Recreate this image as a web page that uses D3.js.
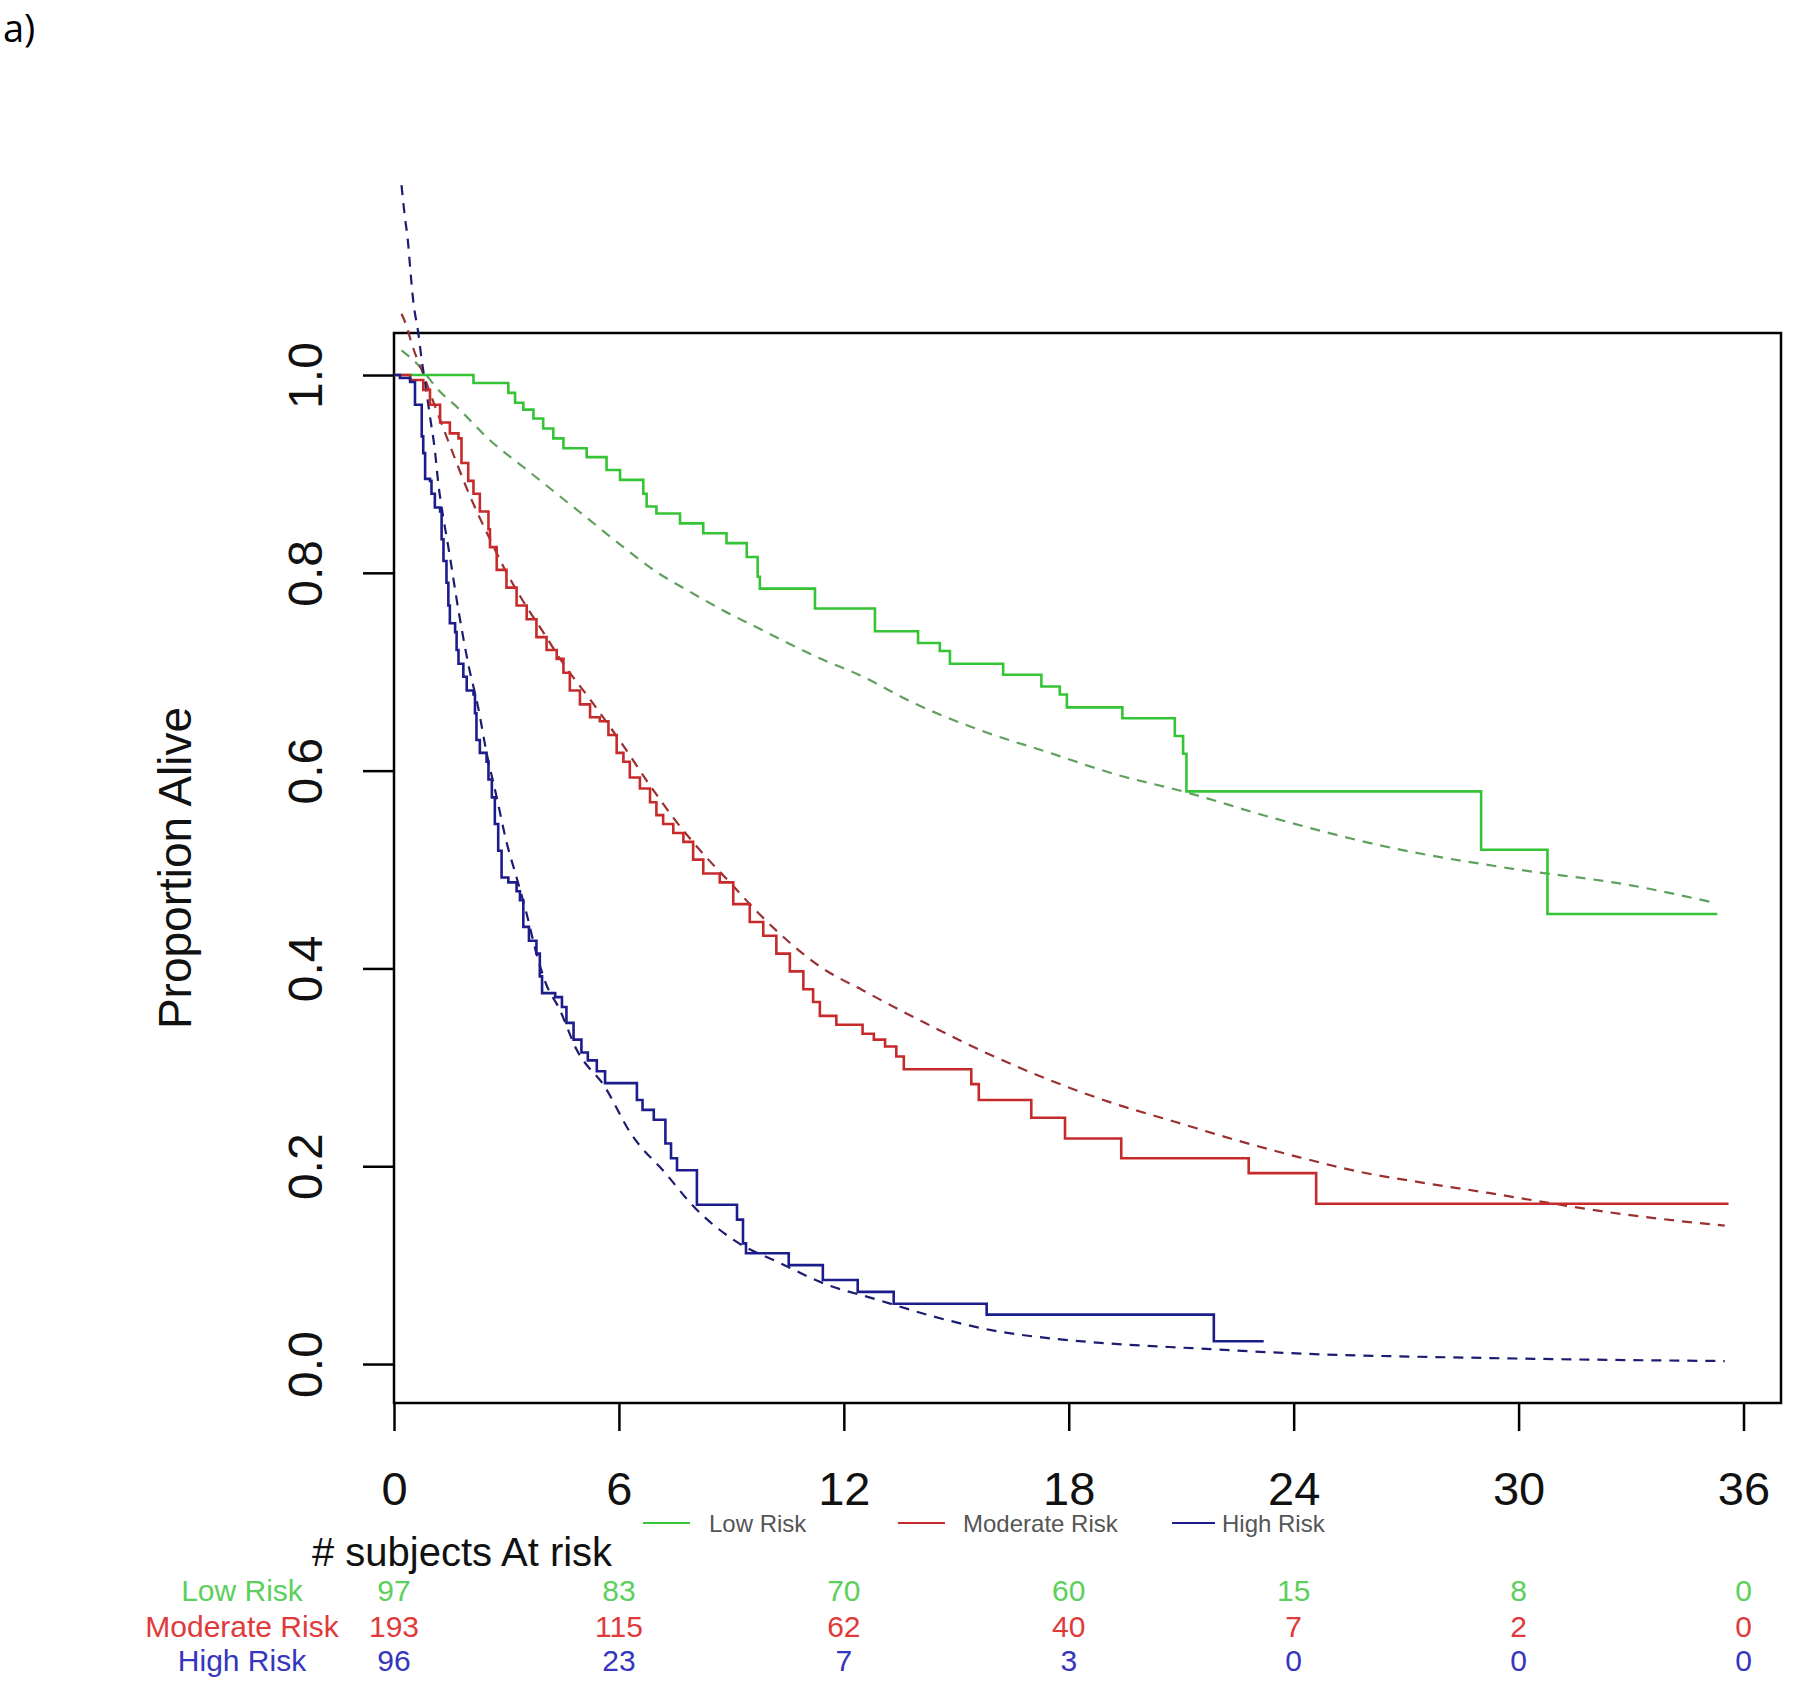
<!DOCTYPE html>
<html>
<head>
<meta charset="utf-8">
<script src="https://cdn.jsdelivr.net/npm/d3@7"></script>
<style>
  html, body { margin: 0; padding: 0; background: #fff; }
  svg { display: block; }
  text { font-family: "Liberation Sans", Arial, sans-serif; }
</style>
</head>
<body>
<svg id="chart" width="1800" height="1683"></svg>
<script>
// ---------------- DATA ----------------
const xTicks = [0, 6, 12, 18, 24, 30, 36];
const yTicks = [0, 0.2, 0.4, 0.6, 0.8, 1.0];
const groups = ["Low Risk", "Moderate Risk", "High Risk"];

// Kaplan-Meier steps: [time of drop (months), survival after drop]
const kmLow = [[2.12,0.992],[3.05,0.982],[3.23,0.972],[3.45,0.965],[3.72,0.956],[3.98,0.946],[4.25,0.936],[4.52,0.926],[5.14,0.917],[5.67,0.904],[6.03,0.894],[6.65,0.880],[6.74,0.867],[7.0,0.860],[7.63,0.850],[8.25,0.840],[8.87,0.830],[9.41,0.816],[9.7,0.796],[9.76,0.784],[11.23,0.764],[12.83,0.741],[13.98,0.729],[14.56,0.721],[14.83,0.708],[16.25,0.697],[17.27,0.685],[17.76,0.677],[17.95,0.664],[19.43,0.653],[20.83,0.635],[21.05,0.617],[21.14,0.579],[29.0,0.520],[30.77,0.455]];
const kmLowEnd = 35.3;
const kmMod = [[0.43,0.995],[0.78,0.985],[0.96,0.970],[1.23,0.952],[1.49,0.941],[1.72,0.936],[1.80,0.911],[1.98,0.893],[2.12,0.880],[2.29,0.862],[2.52,0.844],[2.56,0.826],[2.74,0.803],[3.0,0.785],[3.27,0.767],[3.54,0.753],[3.8,0.735],[4.07,0.722],[4.34,0.713],[4.52,0.699],[4.69,0.681],[4.96,0.667],[5.23,0.654],[5.49,0.650],[5.72,0.636],[5.94,0.618],[6.12,0.609],[6.29,0.593],[6.56,0.582],[6.83,0.568],[7.0,0.555],[7.18,0.546],[7.45,0.537],[7.72,0.528],[7.98,0.510],[8.25,0.496],[8.69,0.487],[9.05,0.465],[9.49,0.447],[9.85,0.433],[10.2,0.415],[10.56,0.397],[10.92,0.379],[11.18,0.366],[11.36,0.352],[11.8,0.343],[12.5,0.334],[12.8,0.328],[13.1,0.321],[13.4,0.311],[13.6,0.298],[15.4,0.283],[15.6,0.267],[17.0,0.249],[17.9,0.228],[19.4,0.208],[22.8,0.193],[24.6,0.162]];
const kmModEnd = 35.6;
const kmHigh = [[0.16,0.997],[0.43,0.993],[0.56,0.970],[0.74,0.938],[0.78,0.921],[0.83,0.895],[0.96,0.893],[1.0,0.880],[1.09,0.866],[1.23,0.862],[1.27,0.834],[1.32,0.812],[1.40,0.790],[1.45,0.767],[1.49,0.749],[1.63,0.740],[1.67,0.722],[1.72,0.708],[1.85,0.695],[1.94,0.681],[2.12,0.677],[2.16,0.658],[2.20,0.631],[2.29,0.618],[2.47,0.609],[2.52,0.591],[2.61,0.573],[2.69,0.546],[2.78,0.519],[2.87,0.492],[3.05,0.487],[3.27,0.478],[3.36,0.469],[3.45,0.442],[3.6,0.428],[3.8,0.415],[3.89,0.392],[3.95,0.375],[4.3,0.371],[4.48,0.361],[4.6,0.345],[4.79,0.328],[5.0,0.315],[5.17,0.307],[5.41,0.296],[5.63,0.284],[6.48,0.267],[6.63,0.257],[6.93,0.247],[7.24,0.223],[7.39,0.208],[7.55,0.196],[8.08,0.161],[9.15,0.146],[9.31,0.122],[9.39,0.112],[10.53,0.100],[11.44,0.085],[12.37,0.073],[13.33,0.061],[15.81,0.050],[21.87,0.023]];
const kmHighEnd = 23.2;

// Fitted (parametric) curves: [time, survival]
const fitLow = [[0.2,1.025],[0.6,1.012],[1.23,0.983],[1.67,0.968],[2.56,0.934],[3.45,0.907],[4.34,0.880],[5.23,0.853],[6.12,0.826],[7.0,0.801],[7.89,0.781],[8.78,0.762],[9.67,0.745],[10.56,0.728],[11.45,0.712],[12.34,0.698],[13.94,0.667],[15.7,0.640],[17.49,0.618],[19.27,0.596],[21.05,0.579],[23.37,0.553],[26.6,0.522],[29.8,0.501],[33.0,0.484],[35.27,0.466]];
const fitMod = [[0.2,1.062],[0.34,1.049],[0.47,1.032],[0.6,1.018],[0.74,1.005],[1.0,0.978],[1.5,0.928],[2.0,0.88],[2.56,0.834],[2.91,0.807],[3.45,0.771],[3.98,0.740],[4.52,0.708],[5.23,0.672],[6.12,0.625],[6.83,0.585],[7.54,0.548],[8.34,0.512],[8.96,0.487],[9.67,0.458],[10.56,0.426],[11.36,0.402],[12.5,0.378],[14.16,0.345],[15.83,0.314],[17.5,0.287],[19.16,0.264],[20.83,0.245],[22.5,0.226],[24.16,0.209],[25.8,0.194],[27.5,0.183],[29.2,0.173],[30.8,0.163],[32.5,0.153],[34.2,0.145],[35.5,0.140]];
const fitHigh = [[0.2,1.192],[0.29,1.160],[0.37,1.136],[0.43,1.109],[0.51,1.076],[0.65,1.042],[0.74,1.015],[0.83,0.992],[0.96,0.958],[1.09,0.924],[1.18,0.891],[1.31,0.857],[1.45,0.826],[1.72,0.762],[1.98,0.708],[2.25,0.663],[2.47,0.618],[2.74,0.573],[3.0,0.528],[3.27,0.492],[3.54,0.455],[3.8,0.415],[4.07,0.383],[4.4,0.360],[4.87,0.318],[5.63,0.280],[6.32,0.233],[7.24,0.193],[8.0,0.159],[9.08,0.125],[10.3,0.102],[11.5,0.081],[12.9,0.065],[14.4,0.048],[15.97,0.034],[17.5,0.026],[19.0,0.021],[21.3,0.016],[23.9,0.011],[29.3,0.006],[35.5,0.003]];

// Numbers at risk
const riskLow  = [97, 83, 70, 60, 15, 8, 0];
const riskMod  = [193, 115, 62, 40, 7, 2, 0];
const riskHigh = [96, 23, 7, 3, 0, 0, 0];

// ---------------- DRAW ----------------
const svg = d3.select("#chart");
const x = d3.scaleLinear().domain([0, 37]).range([394, 1781]);
const y = d3.scaleLinear().domain([-0.0394, 1.0425]).range([1403, 333]);

const colSolid = ["#35c435", "#c62a2a", "#1c1c8c"];
const colDash  = ["#5fa05f", "#9a3030", "#1c1c70"];
const colText  = ["#5ccf5c", "#e03a3a", "#3535c0"];

// panel label
svg.append("text").attr("x", 3).attr("y", 42)
  .style("font-family", "'Open Sans', 'Noto Sans', sans-serif")
  .style("font-size", "38px").attr("fill", "#000").text("a)");

// box
svg.append("rect").attr("x", x(0)).attr("y", y(1.0425))
  .attr("width", x(37) - x(0)).attr("height", y(-0.0394) - y(1.0425))
  .attr("fill", "none").attr("stroke", "#000").attr("stroke-width", 2.5);

// y axis
const yAxis = svg.append("g").attr("transform", `translate(${x(0)},0)`)
  .call(d3.axisLeft(y).tickValues(yTicks).tickSize(31).tickSizeOuter(0).tickFormat(d3.format(".1f")));
yAxis.select(".domain").remove();
yAxis.selectAll(".tick line").attr("stroke", "#000").attr("stroke-width", 2.5);
yAxis.selectAll(".tick text")
  .attr("x", null).attr("dy", null)
  .attr("transform", "translate(-72,0) rotate(-90)")
  .attr("text-anchor", "middle")
  .style("font-size", "48px").style("font-family", "'Liberation Sans', Arial, sans-serif").attr("fill", "#111");

// x axis
const xAxis = svg.append("g").attr("transform", `translate(0,${y(-0.0394)})`)
  .call(d3.axisBottom(x).tickValues(xTicks).tickSize(28).tickSizeOuter(0));
xAxis.select(".domain").remove();
xAxis.selectAll(".tick line").attr("stroke", "#000").attr("stroke-width", 2.5);
xAxis.selectAll(".tick text")
  .attr("y", 102).attr("dy", null)
  .style("font-size", "47px").style("font-family", "'Liberation Sans', Arial, sans-serif").attr("fill", "#111");

// y title
svg.append("text")
  .attr("transform", `translate(191,868) rotate(-90)`)
  .attr("text-anchor", "middle").style("font-size", "46px").attr("fill", "#111")
  .text("Proportion Alive");

// fitted dashed curves
const fitLine = d3.line().x(d => x(d[0])).y(d => y(d[1])).curve(d3.curveMonotoneX);
[fitLow, fitMod, fitHigh].forEach((f, i) => {
  svg.append("path").attr("d", fitLine(f)).attr("fill", "none")
    .attr("stroke", colDash[i]).attr("stroke-width", 2.2).attr("stroke-dasharray", "10,8");
});

// KM step curves
const stepLine = d3.line().x(d => x(d[0])).y(d => y(d[1])).curve(d3.curveStepAfter);
[[kmLow, kmLowEnd], [kmMod, kmModEnd], [kmHigh, kmHighEnd]].forEach(([km, end], i) => {
  const pts = [[0, 1]].concat(km).concat([[end, km[km.length - 1][1]]]);
  svg.append("path").attr("d", stepLine(pts)).attr("fill", "none")
    .attr("stroke", colSolid[i]).attr("stroke-width", 2.6);
});

// legend
const legendItems = [
  {x0: 643, x1: 690, tx: 709},
  {x0: 898, x1: 945, tx: 963},
  {x0: 1172, x1: 1215, tx: 1222}
];
legendItems.forEach((it, i) => {
  svg.append("line").attr("x1", it.x0).attr("x2", it.x1).attr("y1", 1523).attr("y2", 1523)
    .attr("stroke", colSolid[i]).attr("stroke-width", 2.2);
  svg.append("text").attr("x", it.tx).attr("y", 1532)
    .style("font-size", "24px").attr("fill", "#555").text(groups[i]);
});

// numbers at risk
svg.append("text").attr("x", 312).attr("y", 1566)
  .style("font-size", "40px").attr("fill", "#111").text("# subjects At risk");

const rowsY = [1601, 1637, 1671];
[riskLow, riskMod, riskHigh].forEach((row, i) => {
  svg.append("text").attr("x", 242).attr("y", rowsY[i]).attr("text-anchor", "middle")
    .style("font-size", "30px").attr("fill", colText[i]).text(groups[i]);
  svg.selectAll(null).data(row).enter().append("text")
    .attr("x", (d, j) => x(xTicks[j])).attr("y", rowsY[i]).attr("text-anchor", "middle")
    .style("font-size", "30px").attr("fill", colText[i]).text(d => d);
});
</script>
</body>
</html>
